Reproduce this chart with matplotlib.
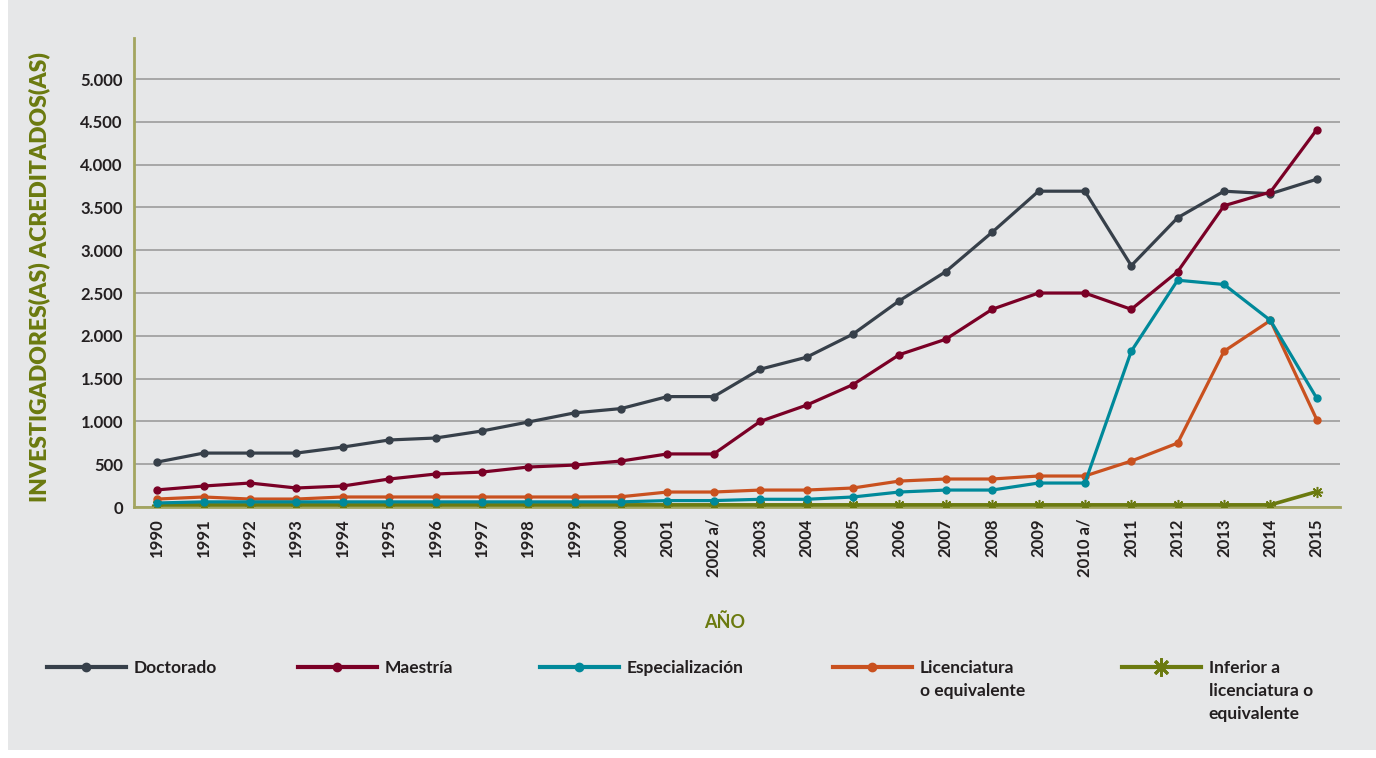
import matplotlib
matplotlib.use("Agg")
import matplotlib.pyplot as plt
from matplotlib.patches import Rectangle
from matplotlib.lines import Line2D
from matplotlib.ticker import FuncFormatter

years = ["1990", "1991", "1992", "1993", "1994", "1995", "1996", "1997", "1998", "1999",
         "2000", "2001", "2002 a/", "2003", "2004", "2005", "2006", "2007", "2008", "2009",
         "2010 a/", "2011", "2012", "2013", "2014", "2015"]

doctorado = [525, 630, 630, 630, 700, 783, 806, 888, 993, 1100,
             1150, 1290, 1290, 1610, 1750, 2020, 2410, 2750, 3210, 3690,
             3690, 2820, 3380, 3690, 3660, 3830]
maestria = [200, 245, 280, 222, 245, 327, 385, 408, 467, 490,
            537, 620, 620, 1000, 1190, 1430, 1780, 1960, 2310, 2500,
            2500, 2310, 2750, 3520, 3680, 4410]
especializacion = [47, 60, 60, 60, 60, 60, 60, 60, 60, 60,
                   60, 75, 75, 90, 90, 117, 175, 198, 198, 280,
                   280, 1820, 2650, 2600, 2180, 1270]
licenciatura = [93, 117, 93, 93, 117, 117, 117, 117, 117, 117,
                120, 175, 175, 198, 198, 222, 303, 327, 327, 362,
                362, 537, 747, 1820, 2180, 1020]
inferior = [25, 25, 25, 25, 25, 25, 25, 25, 25, 25,
            25, 25, 25, 25, 25, 25, 25, 25, 25, 25,
            25, 25, 25, 25, 25, 180]

labels = ["Doctorado", "Maestría", "Especialización", "Licenciatura\no equivalente",
          "Inferior a\nlicenciatura o\nequivalente"]
colors = ["#37404A", "#7A0026", "#00899A", "#C9511F", "#6B7A0F"]

plt.rcParams['font.family'] = ['Lato', 'DejaVu Sans']

BG = "#E6E7E8"
OLIVE = "#6B7A0F"
TXT = "#231F20"
W, H = 1376, 758
fig = plt.figure(figsize=(W/100, H/100), dpi=100, facecolor="white")
fig.patches.append(Rectangle((8/W, 8/H), 1 - 8/W, 1 - 8/H, transform=fig.transFigure,
                             facecolor=BG, edgecolor="none", zorder=-10))

ax = fig.add_axes([134/W, 1 - 507/H, (1340 - 134)/W, (507 - 38)/H])
ax.set_facecolor(BG)

x = list(range(len(years)))
series = [doctorado, maestria, especializacion, licenciatura, inferior]
zorders = [6, 7, 5, 4, 3]
for vals, lab, col, z in zip(series, labels, colors, zorders):
    if lab.startswith("Inferior"):
        ax.plot(x, vals, color=col, lw=2.6, marker=(8, 2, 0), ms=8, mew=1.1, zorder=z)
    else:
        ax.plot(x, vals, color=col, lw=2.3, marker='o', ms=5, zorder=z)

ax.set_xlim(-0.5, len(years) - 0.5)
ax.set_ylim(0, 5480)
ax.set_yticks(list(range(0, 5001, 500)))
ax.yaxis.set_major_formatter(FuncFormatter(lambda v, p: f"{int(v):,}".replace(",", ".")))
ax.grid(axis='y', color="#9C9C9C", lw=1.2)
ax.set_axisbelow(True)
ax.set_xticks(x)
ax.set_xticklabels(years, rotation=90, fontsize=12, fontweight='bold', color=TXT)
for t in ax.get_yticklabels():
    t.set_fontsize(12)
    t.set_fontweight('bold')
    t.set_color(TXT)
ax.tick_params(axis='both', length=0, pad=8)
for s in ["top", "right"]:
    ax.spines[s].set_visible(False)
for s in ["left", "bottom"]:
    ax.spines[s].set_color("#A3A560")
    ax.spines[s].set_linewidth(2)

ax.set_ylabel("INVESTIGADORES(AS) ACREDITADOS(AS)", fontsize=16.5, fontweight='heavy',
              color=OLIVE)
ax.yaxis.set_label_coords(-84/1206, 0.49)
fig.text(725/W, 1 - 622/H, "AÑO", ha='center', va='center', fontsize=13,
         fontweight='bold', color=OLIVE)

# Legend: one legend per entry; extra label lines as text beneath the first line
leg_x = [47, 298, 540, 833, 1122]
legs = []
for i, (lab, col) in enumerate(zip(labels, colors)):
    if lab.startswith("Inferior"):
        h = Line2D([], [], color=col, lw=3, marker=(8, 2, 0), ms=13, mew=2)
    else:
        h = Line2D([], [], color=col, lw=3, marker='o', ms=6)
    first = lab.split("\n")[0]
    leg = fig.legend([h], [first], loc='center left',
                     bbox_to_anchor=(leg_x[i]/W, 1 - 668/H),
                     frameon=False, handlelength=4.55, handletextpad=0.45,
                     prop={'size': 12.5, 'weight': 'bold'}, labelcolor=TXT,
                     borderaxespad=0, borderpad=0)
    legs.append((leg, lab))

fig.canvas.draw()
rend = fig.canvas.get_renderer()
inv = fig.transFigure.inverted()
for leg, lab in legs:
    rest = lab.split("\n")[1:]
    if not rest:
        continue
    bb = leg.get_texts()[0].get_window_extent(rend)
    x0, y0 = inv.transform((bb.x0, bb.y1))
    for j, line in enumerate(rest):
        fig.text(x0, 1 - (668 + 23 * (j + 1))/H, line, ha='left', va='center',
                 fontsize=12.5, fontweight='bold', color=TXT)

fig.savefig("out.png", dpi=100, facecolor=fig.get_facecolor())
